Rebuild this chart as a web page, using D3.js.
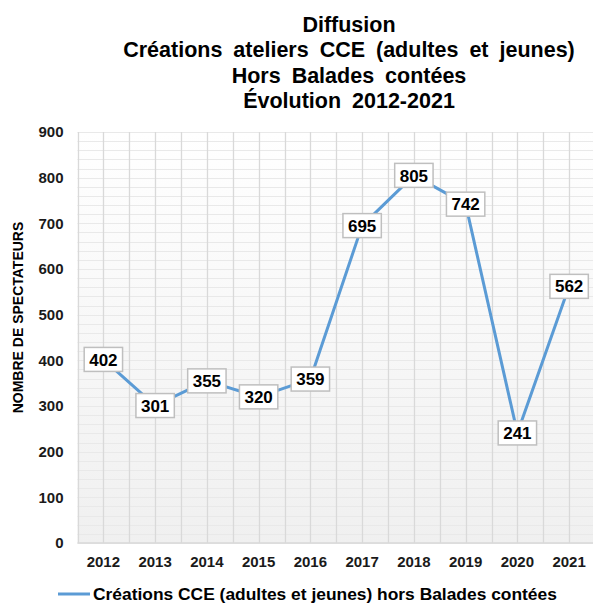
<!DOCTYPE html>
<html>
<head>
<meta charset="utf-8">
<script src="https://cdn.jsdelivr.net/npm/d3@7"></script>
<style>
  body { margin: 0; background: #fff; }
  svg { font-family: "Liberation Sans", Arial, sans-serif; display: block; }
</style>
</head>
<body>
<svg id="chart" width="593" height="603"></svg>
<script>
const years = ['2012', '2013', '2014', '2015', '2016', '2017', '2018', '2019', '2020', '2021'];
const spectateurs = [402, 301, 355, 320, 359, 695, 805, 742, 241, 562];
const titleLines = ['Diffusion', 'Créations ateliers CCE (adultes et jeunes)', 'Hors Balades contées', 'Évolution 2012-2021'];
const yTicks = [0, 100, 200, 300, 400, 500, 600, 700, 800, 900];
const seriesName = 'Créations CCE (adultes et jeunes) hors Balades contées';

const svg = d3.select('svg#chart');
const margin = { top: 132, left: 77.5, bottom: 543 };
const plotRight = 77.5 + 10 * 51.75;

const x = d3.scaleBand().domain(years).range([margin.left, plotRight]);
const y = d3.scaleLinear().domain([0, 900]).range([margin.bottom, margin.top]);
const cx = d => x(d) + x.bandwidth() / 2;

// background gradient
const defs = svg.append('defs');
const grad = defs.append('linearGradient').attr('id', 'bg')
    .attr('x1', 0).attr('y1', 0).attr('x2', 0).attr('y2', 1);
grad.append('stop').attr('offset', '0%').attr('stop-color', '#ffffff');
grad.append('stop').attr('offset', '100%').attr('stop-color', '#f0f0f0');

svg.append('rect')
    .attr('x', margin.left).attr('y', margin.top)
    .attr('width', plotRight - margin.left).attr('height', margin.bottom - margin.top)
    .attr('fill', 'url(#bg)');

// minor horizontal gridlines
const grid = svg.append('g').attr('class', 'grid');
grid.selectAll('line.minor')
    .data(d3.range(0, 901, 20))
    .join('line')
    .attr('class', 'minor')
    .attr('x1', margin.left).attr('x2', plotRight)
    .attr('y1', d => Math.round(y(d)) + 0.5).attr('y2', d => Math.round(y(d)) + 0.5)
    .attr('stroke', '#e9e9e9').attr('stroke-width', 1);

// vertical gridlines at band edges and centres
let vlines = [];
years.forEach(d => { vlines.push(x(d)); vlines.push(cx(d)); });
vlines.push(plotRight);
grid.selectAll('line.v')
    .data(vlines)
    .join('line')
    .attr('class', 'v')
    .attr('x1', d => Math.round(d) + 0.5).attr('x2', d => Math.round(d) + 0.5)
    .attr('y1', margin.top).attr('y2', margin.bottom)
    .attr('stroke', '#d9d9d9').attr('stroke-width', 1.3);

// baseline
svg.append('line')
    .attr('x1', margin.left).attr('x2', plotRight)
    .attr('y1', y(0)).attr('y2', y(0))
    .attr('stroke', '#d9d9d9').attr('stroke-width', 1.5);

// y axis labels
const leftAxis = d3.axisLeft(y).tickValues(yTicks).tickSize(0).tickPadding(14);
svg.append('g')
    .attr('transform', `translate(${margin.left},0)`)
    .call(leftAxis)
    .call(g => g.select('.domain').remove())
    .selectAll('text')
    .attr('font-size', 15).attr('font-weight', 'bold').attr('fill', '#1a1a1a')
    .attr('font-family', '"Liberation Sans", Arial, sans-serif');

// x axis labels
const bottomAxis = d3.axisBottom(x).tickSize(0).tickPadding(13);
svg.append('g')
    .attr('transform', `translate(0,${margin.bottom})`)
    .call(bottomAxis)
    .call(g => g.select('.domain').remove())
    .selectAll('text')
    .attr('font-size', 15).attr('font-weight', 'bold').attr('fill', '#1a1a1a')
    .attr('font-family', '"Liberation Sans", Arial, sans-serif');

// y axis title
svg.append('text')
    .attr('transform', `translate(23,${(margin.top + margin.bottom) / 2 - 20}) rotate(-90)`)
    .attr('text-anchor', 'middle')
    .attr('font-size', 14).attr('font-weight', 'bold').attr('fill', '#000')
    .text('NOMBRE DE SPECTATEURS');

// line
const lineGen = d3.line()
    .x((d, i) => cx(years[i]))
    .y(d => y(d));
svg.append('path')
    .datum(spectateurs)
    .attr('d', lineGen)
    .attr('fill', 'none')
    .attr('stroke', '#5b9bd5')
    .attr('stroke-width', 3)
    .attr('stroke-linejoin', 'round');

// data labels
const labels = svg.append('g').attr('class', 'labels')
    .selectAll('g').data(spectateurs).join('g')
    .attr('transform', (d, i) => `translate(${cx(years[i])},${y(d)})`);
labels.append('rect');
labels.append('text')
    .attr('text-anchor', 'middle')
    .attr('dy', '0.36em')
    .attr('font-size', 17).attr('font-weight', 'bold').attr('fill', '#000')
    .text(d => d);
labels.each(function () {
    const g = d3.select(this);
    const w = g.select('text').node().getComputedTextLength() + 10;
    g.select('rect')
        .attr('x', -w / 2).attr('y', -12)
        .attr('width', w).attr('height', 24)
        .attr('fill', '#fff').attr('stroke', '#bfbfbf').attr('stroke-width', 1.5);
});

// title
svg.append('g').selectAll('text')
    .data(titleLines)
    .join('text')
    .attr('x', 349).attr('y', (d, i) => 31.5 + i * 25.5)
    .attr('text-anchor', 'middle')
    .attr('font-size', 21.5).attr('font-weight', 'bold').attr('fill', '#000')
    .attr('word-spacing', 5)
    .text(d => d);

// legend
const legend = svg.append('g').attr('transform', 'translate(58,594)');
legend.append('line')
    .attr('x1', 0).attr('x2', 32).attr('y1', 0).attr('y2', 0)
    .attr('stroke', '#5b9bd5').attr('stroke-width', 3);
legend.append('text')
    .attr('x', 35).attr('dy', '0.36em')
    .attr('font-size', 17.4).attr('font-weight', 'bold').attr('fill', '#000')
    .text(seriesName);
</script>
</body>
</html>
